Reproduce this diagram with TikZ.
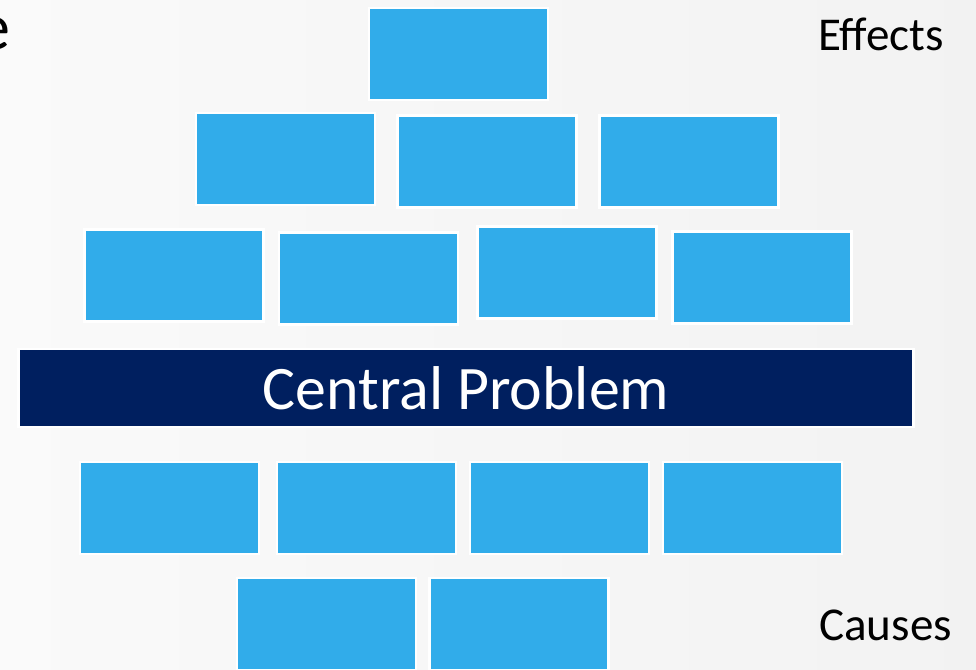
\documentclass[tikz,border=0pt]{standalone}
\usepackage{fontspec}
\setmainfont{Carlito}
\definecolor{cellblue}{HTML}{31ACEA}
\definecolor{corenavy}{HTML}{001F5F}

\begin{document}
\begin{tikzpicture}[
    x=0.025cm, y=-0.025cm,
    cell/.style={fill=cellblue, draw=white, line width=2pt,
                 minimum width=4.475cm, minimum height=2.3cm, inner sep=0pt},
    core/.style={fill=corenavy, draw=white, line width=2pt, text=white,
                 minimum width=22.35cm, minimum height=1.95cm, inner sep=0pt,
                 font=\fontsize{44}{50}\selectfont},
    side/.style={font=\fontsize{33.5}{40}\selectfont, inner sep=0pt},
]

% --- page and soft grey backdrop ---
\useasboundingbox (0,0) rectangle (976,670);
\shade[left color=white!98!black, right color=white!95!black] (0,0) rectangle (976,670);
\clip (0,0) rectangle (976,670);

% tail of the title, cut by the left edge
\node[side, font=\fontsize{47}{52}\selectfont, anchor=base east] (title) at (11,50) {e};

\node[side, anchor=base west] (effects) at (818,51) {Effects};
\node[side, anchor=base west] (causes) at (819,640) {Causes};

% =========================================================
% EFFECTS: three rows above the problem
% =========================================================
\node[cell] (top) at (458.5,54) {};

\foreach \cx/\cy [count=\i] in {285.5/159, 487/161.5, 689/161.5}
  \node[cell] (effect-a\i) at (\cx,\cy) {};

\foreach \cx/\cy [count=\i] in {174/275.5, 368.5/278.5, 567/272.5, 762/277.5}
  \node[cell] (effect-b\i) at (\cx,\cy) {};

% =========================================================
% CENTRAL PROBLEM
% =========================================================
\node[core] (problem) at (466,388) {Central Problem};

% =========================================================
% CAUSES: two rows below the problem
% =========================================================
\foreach \cx [count=\i] in {169.5, 366.5, 559.5, 752.5}
  \node[cell] (cause-a\i) at (\cx,508) {};

\foreach \cx [count=\i] in {326.5, 519}
  \node[cell] (cause-b\i) at (\cx,624) {};

\end{tikzpicture}
\end{document}
